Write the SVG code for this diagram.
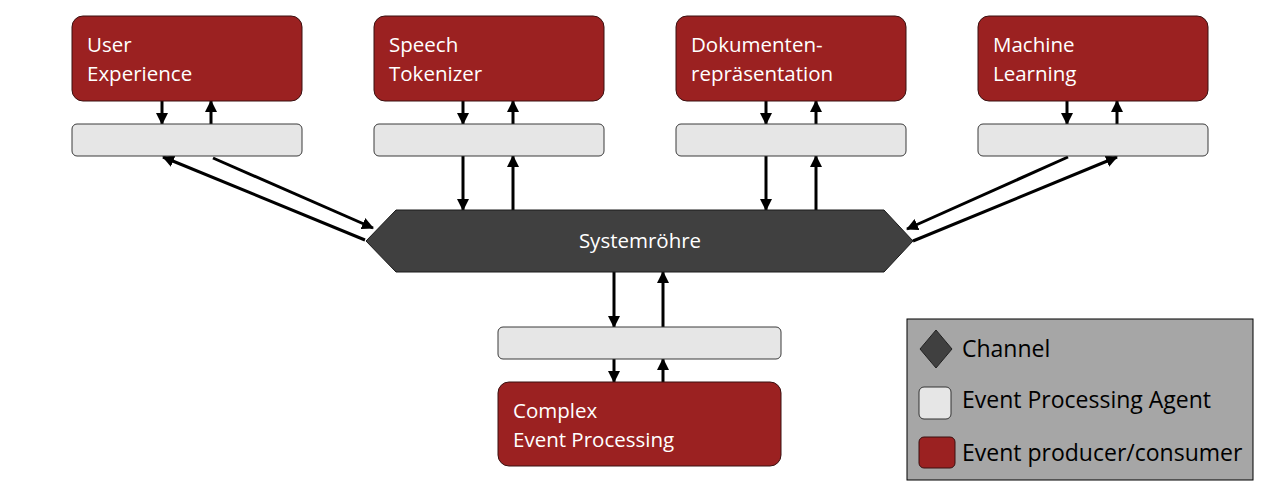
<svg xmlns="http://www.w3.org/2000/svg" width="1280" height="496" viewBox="0 0 1280 496">
<defs>
<style>
.prod{fill:#9b2121;stroke:#3a1010;stroke-width:1}
.epa{fill:#e6e6e6;stroke:#3a3a3a;stroke-width:1}
.lbl{font-family:"Open Sans","Noto Sans",sans-serif;font-size:20.5px;fill:#ffffff}
.leg{font-family:"Open Sans","Noto Sans",sans-serif;font-size:23px;fill:#000000}
.ar{stroke:#000;stroke-width:3;fill:none;marker-end:url(#ah)}
</style>
<marker id="ah" markerUnits="userSpaceOnUse" markerWidth="12" markerHeight="12" refX="11" refY="6" orient="auto">
<path d="M0,0 L12,6 L0,12 z" fill="#000"/>
</marker>
</defs>
<rect width="1280" height="496" fill="#ffffff"/>

<g id="connectors">
<!-- User Experience -->
<line class="ar" x1="162" y1="101" x2="162" y2="124"/>
<line class="ar" x1="211" y1="124" x2="211" y2="101"/>
<line class="ar" x1="365" y1="240" x2="163" y2="157"/>
<line class="ar" x1="213" y1="158" x2="373" y2="228"/>
<!-- Speech Tokenizer -->
<line class="ar" x1="463" y1="101" x2="463" y2="124"/>
<line class="ar" x1="513" y1="124" x2="513" y2="101"/>
<line class="ar" x1="463" y1="156" x2="463" y2="210"/>
<line class="ar" x1="513" y1="210" x2="513" y2="156"/>
<!-- Dokumentenrepräsentation -->
<line class="ar" x1="766" y1="101" x2="766" y2="124"/>
<line class="ar" x1="816" y1="124" x2="816" y2="101"/>
<line class="ar" x1="766" y1="156" x2="766" y2="210"/>
<line class="ar" x1="816" y1="210" x2="816" y2="156"/>
<!-- Machine Learning -->
<line class="ar" x1="1067" y1="101" x2="1067" y2="124"/>
<line class="ar" x1="1117" y1="124" x2="1117" y2="101"/>
<line class="ar" x1="1068" y1="157" x2="907" y2="229"/>
<line class="ar" x1="913" y1="241" x2="1117" y2="157"/>
<!-- Complex Event Processing -->
<line class="ar" x1="614" y1="272" x2="614" y2="327"/>
<line class="ar" x1="663" y1="327" x2="663" y2="272"/>
<line class="ar" x1="614" y1="359" x2="614" y2="382"/>
<line class="ar" x1="663" y1="382" x2="663" y2="359"/>
</g>

<g id="ue">
<rect class="prod" x="72" y="16" width="230" height="85" rx="11"/>
<text class="lbl" x="87" y="52">User</text>
<text class="lbl" x="87" y="81">Experience</text>
</g>
<g id="ue-agent"><rect class="epa" x="72" y="124" width="230" height="32" rx="5"/></g>

<g id="st">
<rect class="prod" x="374" y="16" width="230" height="85" rx="11"/>
<text class="lbl" x="389" y="52">Speech</text>
<text class="lbl" x="389" y="81">Tokenizer</text>
</g>
<g id="st-agent"><rect class="epa" x="374" y="124" width="230" height="32" rx="5"/></g>

<g id="dr">
<rect class="prod" x="676" y="16" width="230" height="85" rx="11"/>
<text class="lbl" x="691" y="52">Dokumenten-</text>
<text class="lbl" x="691" y="81">repräsentation</text>
</g>
<g id="dr-agent"><rect class="epa" x="676" y="124" width="230" height="32" rx="5"/></g>

<g id="ml">
<rect class="prod" x="978" y="16" width="230" height="85" rx="11"/>
<text class="lbl" x="993" y="52">Machine</text>
<text class="lbl" x="993" y="81">Learning</text>
</g>
<g id="ml-agent"><rect class="epa" x="978" y="124" width="230" height="32" rx="5"/></g>

<g id="channel">
<polygon points="366,241 396,210 884,210 913,241 884,272 396,272" fill="#404040" stroke="#1a1a1a" stroke-width="1"/>
<text class="lbl" x="640" y="248" text-anchor="middle">Systemröhre</text>
</g>

<g id="cep-agent"><rect class="epa" x="498" y="327" width="283" height="32" rx="5"/></g>
<g id="cep">
<rect class="prod" x="498" y="382" width="283" height="84" rx="11"/>
<text class="lbl" x="513" y="418">Complex</text>
<text class="lbl" x="513" y="447">Event Processing</text>
</g>

<g id="legend">
<rect x="907" y="319" width="346" height="161" fill="#a6a6a6" stroke="#000" stroke-width="1"/>
<polygon points="936,330 952,349 936,368 920,349" fill="#404040" stroke="#222" stroke-width="1"/>
<rect x="919" y="387" width="32" height="32" rx="5" fill="#e6e6e6" stroke="#333" stroke-width="1"/>
<rect x="919" y="437" width="36" height="31" rx="5" fill="#9b2121" stroke="#3a1010" stroke-width="1"/>
<text class="leg" x="962" y="357">Channel</text>
<text class="leg" x="962" y="408">Event Processing Agent</text>
<text class="leg" x="962" y="461">Event producer/consumer</text>
</g>
</svg>
